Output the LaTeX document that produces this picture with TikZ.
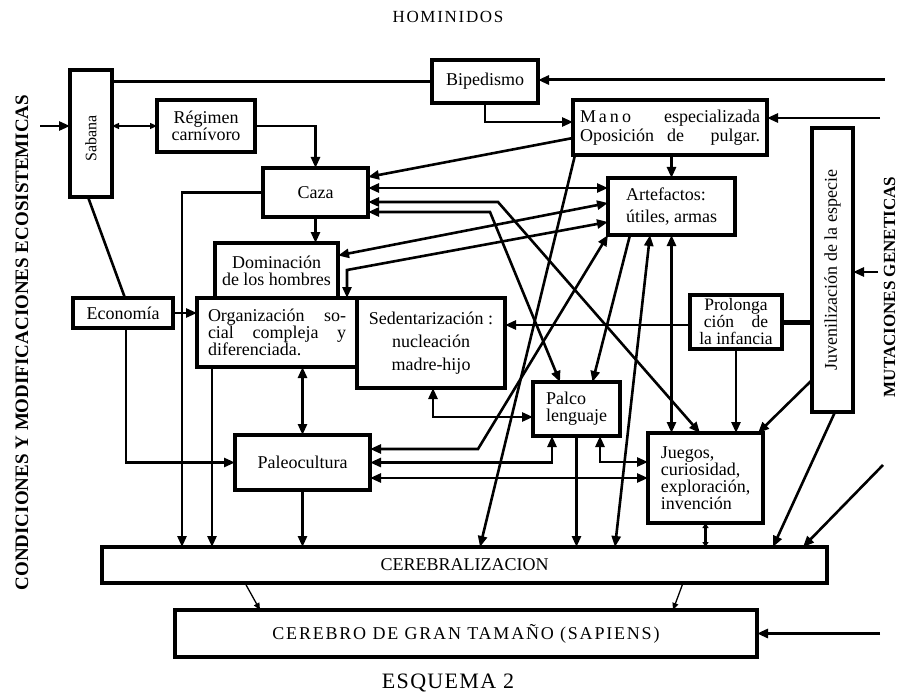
\documentclass[tikz,border=0pt]{standalone}
\usepackage{fontspec}
\setmainfont{Liberation Serif}
\usetikzlibrary{arrows.meta}
\begin{document}
\begin{tikzpicture}[x=1pt,y=1pt,
  box/.style={draw, line width=3.4pt, inner sep=0pt, outer sep=0pt, align=center, font=\fontsize{18}{17}\selectfont},
  lbl/.style={inner sep=0pt, font=\fontsize{18}{17}\selectfont},
  conn/.style={line width=2.6pt},
  thinconn/.style={line width=1.3pt, >={Triangle[length=7pt,width=6pt]}},
  >={Triangle[length=11pt,width=9pt]}
]
\useasboundingbox (0,0) rectangle (897,-698);

% titles
\node[lbl, font=\fontsize{17}{17}\selectfont\addfontfeature{LetterSpace=10}] (title) at (448,-17) {HOMINIDOS};
\node[lbl, font=\fontsize{22}{22}\selectfont\addfontfeature{LetterSpace=6}] (esq) at (448,-683) {ESQUEMA 2};
\node[lbl, rotate=90, font=\fontsize{19}{19}\selectfont\bfseries] (condT) at (22,-342.5) {CONDICIONES Y MODIFICACIONES ECOSISTEMICAS};
\node[lbl, rotate=90, font=\fontsize{17}{17}\selectfont\bfseries] (mutT) at (889.5,-287) {MUTACIONES GENETICAS};

% boxes
\node[box, minimum width=42pt, minimum height=127pt] (sabana) at (91,-133.5) {};
\node[lbl, rotate=90, font=\fontsize{16}{16}\selectfont] (sabanaT) at ([yshift=-5pt]sabana.center) {Sabana};
\node[box, minimum width=106pt, minimum height=43pt] (bip) at (485,-81.5) {Bipedismo};
\node[box, minimum width=98pt, minimum height=52pt] (reg) at (206,-126) {Régimen\\carnívoro};
\node[box, minimum width=194pt, minimum height=55pt, text width=180pt, align=left] (mano) at (670,-127.5) {M\,a\,n\,o\hfill especializada\\[2pt]Oposición\hfill de\hfill\hfill pulgar.};
\node[box, minimum width=105pt, minimum height=49pt] (caza) at (315.5,-192.5) {Caza};
\node[box, minimum width=127pt, minimum height=57pt, align=left] (artef) at (671.5,-206.5) {Artefactos:\\[5pt]útiles, armas};
\node[box, minimum width=123pt, minimum height=55pt] (dom) at (276.5,-270.5) {Dominación\\de los hombres};
\node[box, minimum width=100pt, minimum height=30pt] (econ) at (123,-313) {Economía};
\node[box, minimum width=160pt, minimum height=69pt, text width=138pt, align=left] (org) at (277,-332.5) {Organización\hfill so-\\cial\hfill compleja\hfill y\\diferenciada.};
\node[box, minimum width=148pt, minimum height=90pt] (sed) at (431,-343) {Sedentarización :\\[6pt]nucleación\\[6pt]madre-hijo};
\node[box, minimum width=92pt, minimum height=54pt, font=\fontsize{17.5}{17}\selectfont] (prol) at (736,-322) {Prolonga\\ción\quad de\\la infancia};
\node[box, minimum width=41pt, minimum height=284pt] (juv) at (832.5,-270) {};
\node[lbl, rotate=90] (juvT) at (juv.center) {Juvenilización de la especie};
\node[box, minimum width=87pt, minimum height=54pt, align=left] (palco) at (576.5,-409) {Palco\\lenguaje};
\node[box, minimum width=135pt, minimum height=55pt] (paleo) at (302.5,-462.5) {Paleocultura};
\node[box, minimum width=115pt, minimum height=90pt, align=left] (juegos) at (705.5,-478) {Juegos,\\curiosidad,\\exploración,\\invención};
\node[box, minimum width=725pt, minimum height=36pt] (cereb) at (464.5,-565) {CEREBRALIZACION};
\node[box, minimum width=582pt, minimum height=47pt, font=\fontsize{18}{18}\selectfont\addfontfeature{LetterSpace=10}] (cerebro) at (466,-633.5) {CEREBRO DE GRAN TAMAÑO (SAPIENS)};

% free ends
\coordinate (inSab) at (40,-126);
\coordinate (inBip) at (885,-80);
\coordinate (inMano) at (880,-118);
\coordinate (inJuv) at (878,-272);
\coordinate (inCer) at (883,-465);
\coordinate (inCbr) at (880,-633.5);

% connectors
\draw[conn,->] (inSab) -- (inSab -| sabana.west);
\draw[thinconn,<->] (sabana.east |- reg.west) -- (reg.west);
\draw[conn] (sabana.east |- bip.west) -- (bip.west);
\draw[conn,->,line width=3pt] (inBip) -- (inBip -| bip.east);
\draw[conn,->] (bip.south) |- ([yshift=5.5pt]mano.west);
\draw[conn,->] (inMano) -- (inMano -| mano.east);
\draw[conn,->] (artef.north |- mano.south) -- (artef.north);
\draw[conn,->] (reg.east) -| (caza.north);
\draw[conn,->] (caza.south) -- (caza.south |- dom.north);
\draw[conn,->] (caza.west) -| ([xshift=80pt]cereb.north west);
\draw[conn,->] ([yshift=-10.5pt]mano.west) -- ([yshift=15.5pt]caza.east);
\draw[conn,<->] ([yshift=4.5pt]caza.east) -- ([yshift=4.5pt]caza.east -| artef.west);
\draw[conn,<->] ([yshift=-9.5pt]caza.east) -- ++(130,0) -- ([xshift=-5.5pt]juegos.north);
\draw[conn,<->] ([yshift=-19.5pt]caza.east) -- ++(122,0) -- ([xshift=-16.5pt]palco.north);
\draw[conn,<->] ([yshift=3.5pt]artef.west) -- ([yshift=15pt]dom.east);
\draw[conn,<->] ([yshift=-15.5pt]artef.west) -- ++(-261,-48) -- ([xshift=70pt]org.north);
\draw[conn,->] (econ.east) -- (econ.east -| org.west);
\draw[conn] ([xshift=-3pt]sabana.south) -- ([xshift=2pt]econ.north);
\draw[conn,->] ([xshift=3pt]econ.south) |- (paleo.west);
\draw[conn,->] ([xshift=-65pt]org.south) -- ([xshift=-65pt]org.south |- cereb.north);
\draw[conn,<->] (paleo.north |- org.south) -- (paleo.north);
\draw[conn,->] (paleo.south) -- (paleo.south |- cereb.north);
\draw[conn,<->] ([yshift=13.5pt]paleo.east) -- ++(108,0) -- (artef.south west);
\draw[conn,<->] (paleo.east) -| ([xshift=-24.5pt]palco.south);
\draw[conn,<->] (juegos.west -| paleo.east) -- (juegos.west);
\draw[conn,<->] ([xshift=23.5pt]palco.south) |- ([yshift=16pt]juegos.west);
\draw[conn,->] (palco.south) -- (palco.south |- cereb.north);
\draw[conn,->] ([xshift=-95pt]mano.south) -- ([xshift=15.5pt]cereb.north);
\draw[conn,->] ([xshift=-41.5pt]artef.south) -- ([xshift=16pt]palco.north);
\draw[conn,<->] ([xshift=-21.5pt]artef.south) -- ([xshift=150.5pt]cereb.north);
\draw[conn,<->] (artef.south) -- (artef.south |- juegos.north);
\draw[conn,<->] ([xshift=2pt]sed.south) |- ([yshift=-8pt]palco.west);
\draw[conn,->] ([yshift=-3pt]prol.west) -- ([yshift=-3pt]prol.west -| sed.east);
\draw[line width=5pt] (prol.east) -- (prol.east -| juv.west);
\draw[conn,->] (prol.south) -- (prol.south |- juegos.north);
\draw[conn,->] ([yshift=-110pt]juv.west) -- ([xshift=-5pt]juegos.north east);
\draw[conn,->] ([xshift=2.5pt]juv.south) -- ([xshift=-54pt]cereb.north east);
\draw[conn,->] (inCer) -- ([xshift=-24pt]cereb.north east);
\draw[conn,->] (inJuv) -- (inJuv -| juv.east);
\draw[conn,{Triangle[length=5pt,width=6pt]}-{Triangle[length=5pt,width=6pt]}] (juegos.south) -- (juegos.south |- cereb.north);
\draw[thinconn,->] ([xshift=-219.5pt]cereb.south) -- ([xshift=-206pt]cerebro.north);
\draw[thinconn,->] ([xshift=218.5pt]cereb.south) -- ([xshift=207pt]cerebro.north);
\draw[conn,->,line width=3.6pt] (inCbr) -- (cerebro.east);
\end{tikzpicture}
\end{document}
